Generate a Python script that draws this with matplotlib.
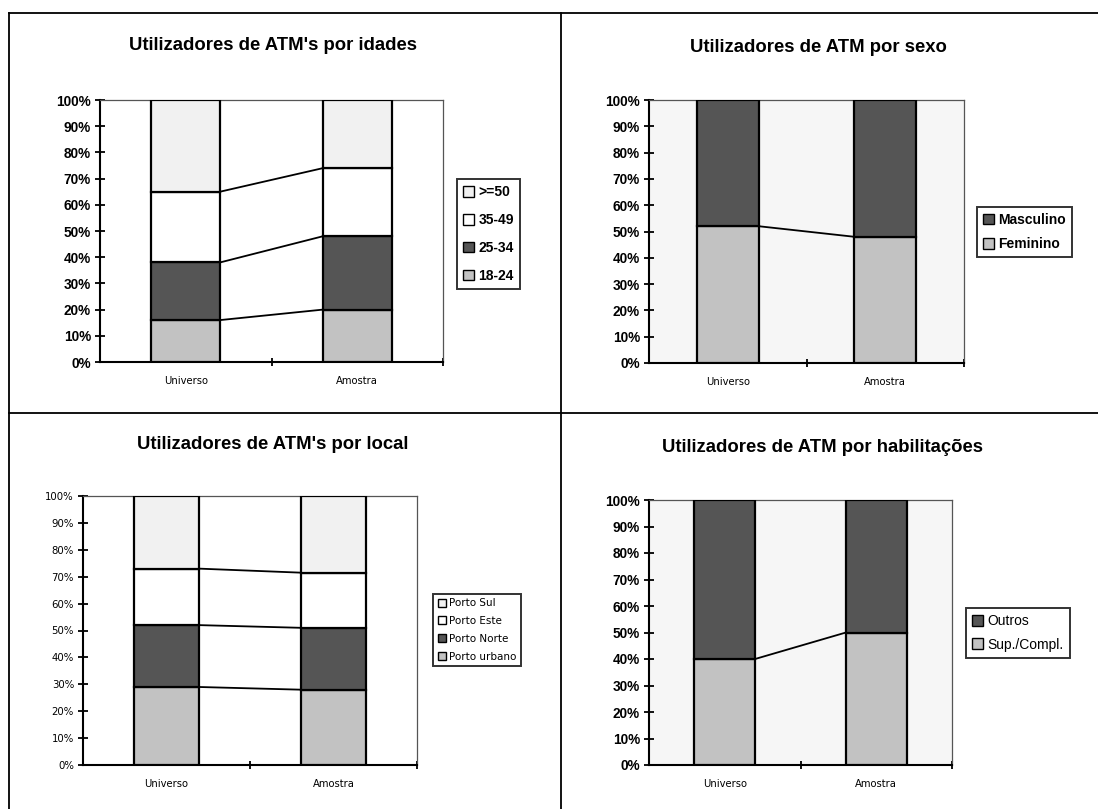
import matplotlib
matplotlib.use("Agg")
import matplotlib.pyplot as plt
from matplotlib.lines import Line2D
from matplotlib.ticker import FuncFormatter, FixedLocator
import numpy as np

# ---------------- data ----------------
groups = ["Universo", "Amostra"]

idade_labels = ["18-24", "25-34", "35-49", ">=50"]
idade_values = [[16, 20], [22, 28], [27, 26], [35, 26]]

sexo_labels = ["Feminino", "Masculino"]
sexo_values = [[52, 48], [48, 52]]

local_labels = ["Porto urbano", "Porto Norte", "Porto Este", "Porto Sul"]
local_values = [[29, 28], [23, 23], [21, 20.5], [27, 28.5]]

hab_labels = ["Sup./Compl.", "Outros"]
hab_values = [[40, 50], [60, 50]]

titles = ["Utilizadores de ATM's por idades",
          "Utilizadores de ATM por sexo",
          "Utilizadores de ATM's por local",
          "Utilizadores de ATM por habilitações"]

# ---------------- style ----------------
LIGHT = "#c2c2c2"
DARK = "#555555"
WHITE = "#ffffff"
PALE = "#f1f1f1"

W, H = 1098, 809
fig = plt.figure(figsize=(W / 100, H / 100), dpi=100)
fig.patch.set_facecolor("white")

def px(x0, y0, x1, y1):
    return [x0 / W, 1 - y1 / H, (x1 - x0) / W, (y1 - y0) / H]

TITLE_FONT = dict(family="Liberation Sans", weight="bold", size=13.3)

def draw_panel(rect, labels, values, colors, title, title_xy, legend_xy,
               tick_font, xtick_font, leg_font, bg="white", width=0.4,
               leg_spacing=0.9):
    ax = fig.add_axes(rect)
    ax.set_facecolor(bg)
    x = np.arange(len(groups))
    bottom = np.zeros(len(groups))
    handles = []
    for lab, vals, col in zip(labels, values, colors):
        vals = np.array(vals, dtype=float)
        b = ax.bar(x, vals, width, bottom=bottom, color=col,
                   edgecolor="black", linewidth=1.6, label=lab, zorder=3)
        handles.append(b)
        bottom = bottom + vals
        if bottom[0] < 99.9:
            ax.plot([x[0] + width / 2, x[1] - width / 2], [bottom[0], bottom[1]],
                    color="black", linewidth=1.3, zorder=2)
    ax.set_xlim(-0.5, 1.5)
    ax.set_ylim(0, 100)
    ax.yaxis.set_major_locator(FixedLocator(np.arange(0, 101, 10)))
    ax.yaxis.set_major_formatter(FuncFormatter(lambda v, p: f"{int(v)}%"))
    ax.set_xticks(x)
    ax.set_xticklabels(groups, **xtick_font)
    ax.xaxis.set_minor_locator(FixedLocator([0.5, 1.5]))
    ax.tick_params(axis="x", which="major", length=0, pad=10)
    ax.tick_params(axis="x", which="minor", length=6, direction="inout", width=1.3)
    ax.tick_params(axis="y", length=7, direction="inout", width=1.3, pad=3)
    for t in ax.get_yticklabels():
        t.set_fontproperties(matplotlib.font_manager.FontProperties(**tick_font))
    for s in ["left", "bottom"]:
        ax.spines[s].set_linewidth(1.5)
        ax.spines[s].set_color("black")
    for s in ["top", "right"]:
        ax.spines[s].set_linewidth(0.9)
        ax.spines[s].set_color("#555555")
    fig.text(title_xy[0] / W, 1 - title_xy[1] / H, title, ha="center",
             va="center", **TITLE_FONT)
    leg = ax.legend(handles[::-1], labels[::-1], loc="center left",
                    bbox_to_anchor=(legend_xy[0] / W, 1 - legend_xy[1] / H),
                    bbox_transform=fig.transFigure, frameon=True, fancybox=False,
                    handlelength=0.8, handleheight=0.8, handletextpad=0.3,
                    borderpad=0.45, labelspacing=leg_spacing, borderaxespad=0,
                    prop=leg_font)
    leg.get_frame().set_edgecolor("black")
    leg.get_frame().set_linewidth(1.4)
    for p in leg.get_patches():
        p.set_linewidth(1.0)
    return ax

big_tick = dict(family="Liberation Sans", weight="bold", size=9.8)
small_tick = dict(family="DejaVu Sans", size=7.3)
xt = dict(family="DejaVu Sans", fontsize=7.2)

draw_panel(px(100, 100, 443, 362), idade_labels, idade_values,
           [LIGHT, DARK, WHITE, PALE], titles[0], (273, 45), (457, 234),
           big_tick, xt, dict(family="Liberation Sans", weight="bold", size=10),
           leg_spacing=1.0)

draw_panel(px(649, 100, 964, 363), sexo_labels, sexo_values,
           [LIGHT, DARK], titles[1], (818, 47), (977, 232),
           big_tick, xt, dict(family="Liberation Sans", weight="bold", size=10),
           bg="#f6f6f6", width=0.395, leg_spacing=0.75)

draw_panel(px(83, 496, 417, 765), local_labels, local_values,
           [LIGHT, DARK, WHITE, PALE], titles[2], (273, 445), (433, 630),
           small_tick, xt, dict(family="DejaVu Sans", size=7.5),
           width=0.39, leg_spacing=0.75)

draw_panel(px(649, 500, 952, 765), hab_labels, hab_values,
           [LIGHT, DARK], titles[3], (822, 447), (966, 633),
           big_tick, xt, dict(family="Liberation Sans", size=10),
           bg="#f6f6f6", width=0.4, leg_spacing=0.65)

# ---------------- frame lines ----------------
def fline(x0, y0, x1, y1, lw=1.3):
    fig.add_artist(Line2D([x0 / W, x1 / W], [1 - y0 / H, 1 - y1 / H],
                          color="black", linewidth=lw))

fline(9, 13, 1098, 13)
fline(9, 13, 9, 809)
fline(561, 13, 561, 809)
fline(9, 413, 1098, 413)

fig.savefig("out.png", dpi=100)
